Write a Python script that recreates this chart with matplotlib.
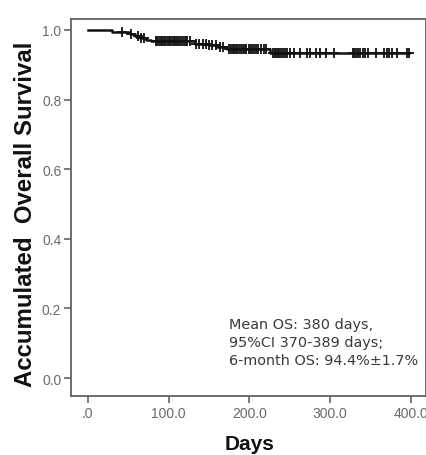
import numpy as np
import matplotlib
matplotlib.use("Agg")
import matplotlib.pyplot as plt

# Kaplan-Meier overall survival (step times in days and survival after each step)
step_days = [0, 30, 52, 58, 64, 72, 78, 133, 150, 160, 172, 225, 398]
step_surv = [1.0, 0.994, 0.988, 0.983, 0.978, 0.972, 0.967, 0.961, 0.956, 0.950, 0.944, 0.933, 0.933]

# Censored observations (days)
censor_days = [42, 53, 62, 66, 70, 84, 86, 88, 90, 92, 94, 96, 98, 100, 102, 104, 106,
               108, 110, 112, 114, 117, 119, 121, 123, 126, 134, 138, 143, 146, 150,
               154, 158, 163, 167, 175, 177, 179, 181, 183, 185, 187, 190, 192, 194,
               196, 199, 201, 203, 205, 208, 211, 214, 218, 221, 229, 231, 233, 235,
               237, 239, 241, 244, 247, 250, 255, 262, 271, 275, 283, 287, 295, 305,
               328, 330, 332, 334, 337, 340, 343, 347, 357, 367, 370, 373, 376, 383,
               395, 398]

x_ticks = [0, 100, 200, 300, 400]
x_tick_labels = [".0", "100.0", "200.0", "300.0", "400.0"]
y_ticks = [0.0, 0.2, 0.4, 0.6, 0.8, 1.0]
y_tick_labels = ["0.0", "0.2", "0.4", "0.6", "0.8", "1.0"]

summary_text = "Mean OS: 380 days,\n95%CI 370-389 days;\n6-month OS: 94.4%\u00b11.7%"

W, H = 427, 456
fig = plt.figure(figsize=(W / 100, H / 100), dpi=100)
ax = fig.add_axes([71 / W, (H - 397) / H, (426 - 71) / W, (397 - 20) / H])

days = np.asarray(step_days, dtype=float)
surv = np.asarray(step_surv, dtype=float)
ax.step(days, surv, where="post", color="#111111", lw=1.8, zorder=3)

cens = np.asarray(censor_days, dtype=float)
idx = np.searchsorted(days, cens, side="right") - 1
ax.plot(cens, surv[idx], linestyle="none", marker="+", color="#111111",
        markersize=7, markeredgewidth=1.3, zorder=4)

ax.set_xlim(-21, 418.6)
ax.set_ylim(-0.0517, 1.0316)

spine_col = "#5c6666"
for s in ax.spines.values():
    s.set_color(spine_col)
    s.set_linewidth(1.3)

ax.set_xticks(x_ticks)
ax.set_xticklabels(x_tick_labels)
ax.set_yticks(y_ticks)
ax.set_yticklabels(y_tick_labels)
ax.tick_params(axis="both", direction="out", length=5, width=1.2, color=spine_col,
               labelcolor="#6a6a6a", labelsize=10, pad=2)
for lab in ax.get_xticklabels() + ax.get_yticklabels():
    lab.set_family("Liberation Sans")

ax.set_xlabel("Days", fontsize=15, fontweight="bold", family="Liberation Sans",
              color="#111111")
ax.xaxis.set_label_coords((250 - 71) / (426 - 71), -(445 - 397) / (397 - 20))
ax.xaxis.label.set_verticalalignment("center")

ax.set_ylabel("Accumulated  Overall Survival", fontsize=17.3, fontweight="bold",
              family="Liberation Sans", color="#111111")
ax.yaxis.set_label_coords(-(71 - 26) / (426 - 71), (397 - 214) / (397 - 20))
ax.yaxis.label.set_verticalalignment("center")

ax.text(229 / W, 1 - 318 / H, summary_text, transform=fig.transFigure,
        ha="left", va="top", fontsize=10.4, family="DejaVu Sans",
        color="#3a3a3a", linespacing=1.38)

fig.savefig("out.png", dpi=100, facecolor="white")
